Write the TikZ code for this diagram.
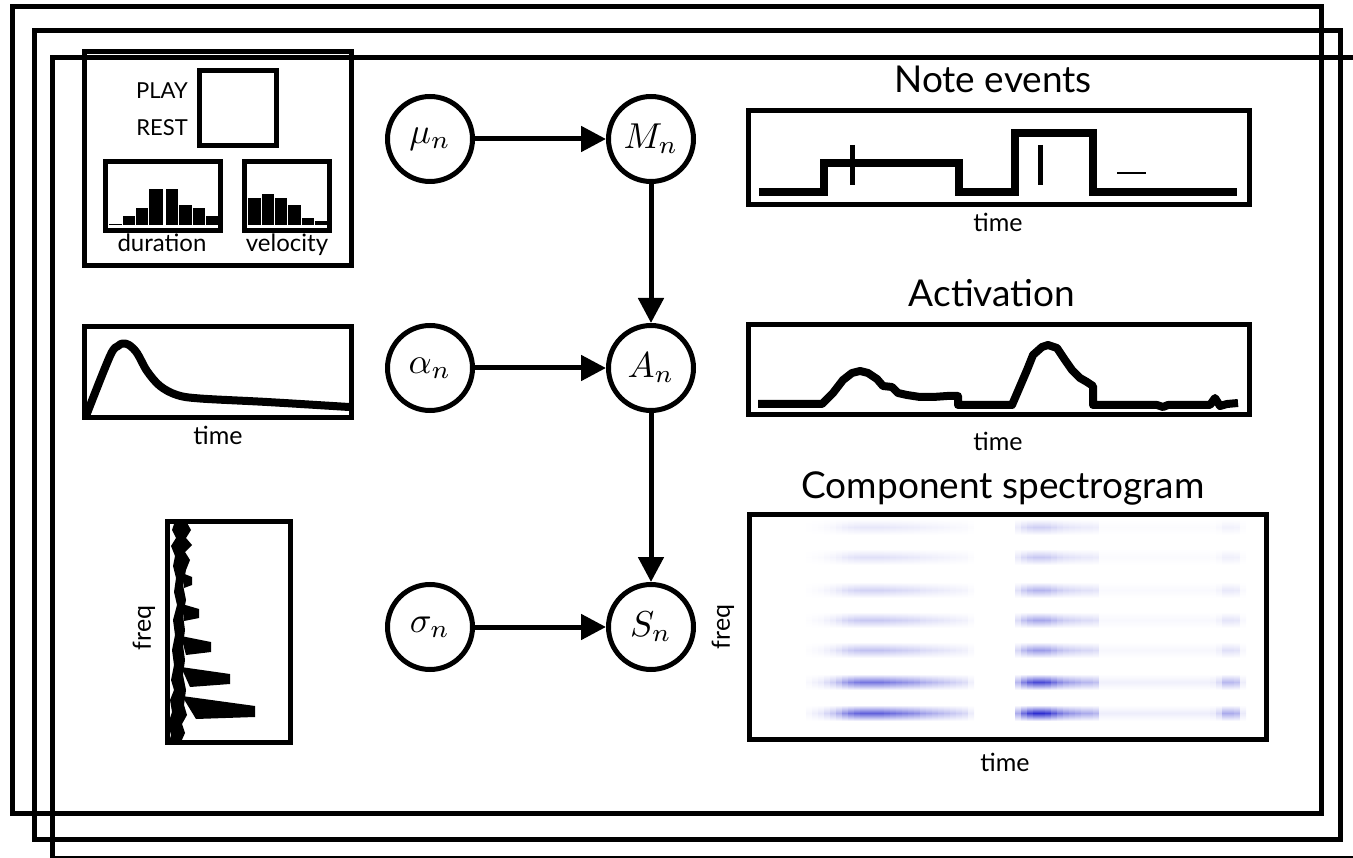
\documentclass[tikz,border=0pt]{standalone}
\usepackage{fontspec}
\setmainfont{Lato}
\usetikzlibrary{arrows.meta}
\definecolor{specblue}{RGB}{35,35,205}
\newcommand\mlab[1]{\scalebox{3.6}{$#1$}}
\begin{document}
\begin{tikzpicture}[x=1pt,y=-1pt,
  frm/.style={line width=5pt},
  pnl/.style={draw, line width=5pt},
  vnode/.style={circle, draw, line width=5pt, minimum size=85pt, inner sep=0pt, font=\fontsize{10}{12}\selectfont},
  arr/.style={line width=5pt, -{Triangle[length=25pt,width=25pt]}},
  ttl/.style={font=\fontsize{37}{42}\selectfont, anchor=base, inner sep=0pt},
  lbl/.style={font=\fontsize{25}{28}\selectfont, anchor=base, inner sep=0pt},
  smlbl/.style={font=\fontsize{22}{25}\selectfont, anchor=base east, inner sep=0pt},
  hlbl/.style={font=\fontsize{24}{27}\selectfont, anchor=base, inner sep=0pt},
  crv/.style={line width=8pt, line join=round},
  bar/.style={fill=black, draw=white, line width=0.6pt}
]
\useasboundingbox (0,0) rectangle (1353,858);

% plate frames
\draw[frm] (12.5,7) rectangle (1321.5,813.5);
\draw[frm] (34.5,30.5) rectangle (1340.5,839);
\draw[frm] (52.5,57.5) rectangle (1380,858.5);

% ---------- left: note model ----------
\draw[pnl] (84.5,52) rectangle (351,265.5);
\draw[pnl] (199.5,70.5) rectangle (276.5,145.5);
\node[smlbl] (play) at (188,99) {PLAY};
\node[smlbl] (rest) at (188,136) {REST};
\foreach \a/\b/\t in {108/122/223,122/135/215,135/148/207,148/163/188,165/178/188,178/192/204,192/205/207,205/218/215}
  \filldraw[bar] (\a,225.5) rectangle (\b,\t);
\foreach \a/\b/\t in {247/261/197,261/274/193,274/287/197,287/301/204,301/314/217,314/327/220}
  \filldraw[bar] (\a,225.5) rectangle (\b,\t);
\draw[pnl] (105.5,161.5) rectangle (220.5,230.5);
\draw[pnl] (244.5,161.5) rectangle (329.5,230.5);
\node[hlbl] (dur) at (162,252) {duration};
\node[hlbl] (vel) at (287,252) {velocity};

% ---------- left: activation shape ----------
\draw[pnl] (84.5,326.5) rectangle (351,417.5);
\draw[crv] plot[smooth, tension=0.55] coordinates {(86,416) (110,356) (118,346) (123,343.5) (129,345) (137,353) (147,371) (160,386) (177,395) (200,398.5) (267,402) (349,407)};
\node[lbl] (t1) at (218,445) {time};

% ---------- left: spectrum ----------
\draw[pnl] (167.5,521.5) rectangle (290.5,742.5);
\fill[line join=round] (175,521) -- (172,530) -- (176,538) -- (171,546) -- (175,556) -- (173,566) -- (176,578) -- (174,592) -- (177,605) -- (173,620) -- (175,635) -- (172,650) -- (174,665) -- (171,680) -- (174,690) -- (170,700) -- (172,712) -- (168,724) -- (171,735) -- (169,742)
  -- (181,742) -- (185,733) -- (182,724) -- (187,715) -- (184,705) -- (186,690) -- (183,675) -- (185,660) -- (183,645) -- (185,630) -- (183,615) -- (186,600) -- (183,585) -- (186,570) -- (190,560) -- (185,552) -- (192,545) -- (186,538) -- (191,530) -- (186,521) -- cycle;
\fill (182,573) -- (192,577) -- (192,585) -- (184,588) -- cycle;
\fill (182,604) -- (199,609) -- (199,618) -- (184,621) -- cycle;
\fill (181,636) -- (211,642) -- (211,652) -- (186,655) -- cycle;
\fill (181,667) -- (230,674) -- (230,684) -- (190,687) -- cycle;
\fill (182,696) -- (255,706) -- (255,717) -- (196,719) -- cycle;
\node[lbl, rotate=90, anchor=center] (f1) at (144,628) {freq};

% ---------- graphical model ----------
\node[vnode] (mu) at (430,139) {\mlab{\mu_n}};
\node[vnode] (M) at (651,139) {\mlab{M_n}};
\node[vnode] (al) at (430,368) {\mlab{\alpha_n}};
\node[vnode] (A) at (651,368) {\mlab{A_n}};
\node[vnode] (si) at (430,627) {\mlab{\sigma_n}};
\node[vnode] (S) at (651,627) {\mlab{S_n}};
\draw[arr] (mu) -- (M);
\draw[arr] (M) -- (A);
\draw[arr] (al) -- (A);
\draw[arr] (A) -- (S);
\draw[arr] (si) -- (S);

% ---------- right: note events ----------
\node[ttl] (tne) at (993,93) {Note events};
\draw[pnl] (748.5,110.5) rectangle (1249.5,204.5);
\draw[line width=8pt] (759,192) -- (824,192) -- (824,163) -- (959,163) -- (959,192) -- (1015,192) -- (1015,133) -- (1093,133) -- (1093,192) -- (1237,192);
\draw[line width=5pt] (852,145) -- (852,185);
\draw[line width=5pt] (1040,145) -- (1040,185);
\draw[line width=2pt] (1117,173) -- (1146,173);
\node[lbl] (t2) at (998,232) {time};

% ---------- right: activation ----------
\node[ttl] (tact) at (992,307) {Activation};
\draw[pnl] (748.5,324.5) rectangle (1249.5,414.5);
\draw[crv] (758,404) -- (822,404) -- (833,393) -- (843,380) -- (852,373) -- (860,371) -- (868,373) -- (877,379) -- (883,386) -- (892,387) -- (898,393) -- (907,395) -- (920,397) -- (933,397) -- (947,396) -- (958,396) -- (958,405) -- (1012,405) -- (1027,370) -- (1033,355) -- (1042,347) -- (1048,345) -- (1057,348) -- (1065,360) -- (1072,370) -- (1080,378) -- (1087,382) -- (1093,386) -- (1093,405) -- (1157,405) -- (1163,407) -- (1168,405) -- (1210,405) -- (1215,398) -- (1220,406) -- (1227,404) -- (1238,403);
\node[lbl] (t3) at (998,451) {time};

% ---------- right: component spectrogram ----------
\node[ttl] (tspec) at (1003,499) {Component spectrogram};
\foreach \yy/\sa/\sb/\sc in {713/.72/.95/.38, 682/.62/.82/.32, 650/.28/.45/.14, 620/.25/.4/.12, 590/.2/.34/.1, 557/.14/.25/.07, 527/.11/.22/.06} {
  \foreach \xx/\vv in {806/.05, 812/.1, 818/.15, 824/.25, 830/.35, 836/.5, 842/.7, 848/.85, 854/.95, 860/1, 866/1, 872/1, 878/1, 884/.95, 890/.9, 896/.85, 902/.8, 908/.75, 914/.7, 920/.6, 926/.55, 932/.5, 938/.45, 944/.4, 950/.35, 956/.3, 962/.25, 968/.12} {
    \pgfmathsetmacro\kk{100*\vv*\sa}
    \shade[top color=white, bottom color=white, middle color=specblue!\kk!white] (\xx,\yy-8) rectangle ++(6,16);
  }
  \foreach \xx/\vv in {1015/.4, 1021/.7, 1027/.9, 1033/1, 1039/1, 1045/.95, 1051/.8, 1057/.65, 1063/.55, 1069/.5, 1075/.45, 1081/.4, 1087/.4, 1093/.35} {
    \pgfmathsetmacro\kk{100*\vv*\sb}
    \shade[top color=white, bottom color=white, middle color=specblue!\kk!white] (\xx,\yy-8) rectangle ++(6,16);
  }
  \pgfmathsetmacro\kk{8*\sb}
  \shade[top color=white, bottom color=white, middle color=specblue!\kk!white] (1099,\yy-8) rectangle (1210,\yy+8);
  \foreach \xx/\vv in {1210/.25, 1216/.5, 1222/1, 1228/1, 1234/.9, 1240/.25} {
    \pgfmathsetmacro\kk{100*\vv*\sc}
    \shade[top color=white, bottom color=white, middle color=specblue!\kk!white] (\xx,\yy-8) rectangle ++(6,16);
  }
}
\draw[pnl] (749,515) rectangle (1266,739);
\node[lbl, rotate=90, anchor=center] (f2) at (723,627) {freq};
\node[lbl] (t4) at (1005,771) {time};
\end{tikzpicture}
\end{document}
